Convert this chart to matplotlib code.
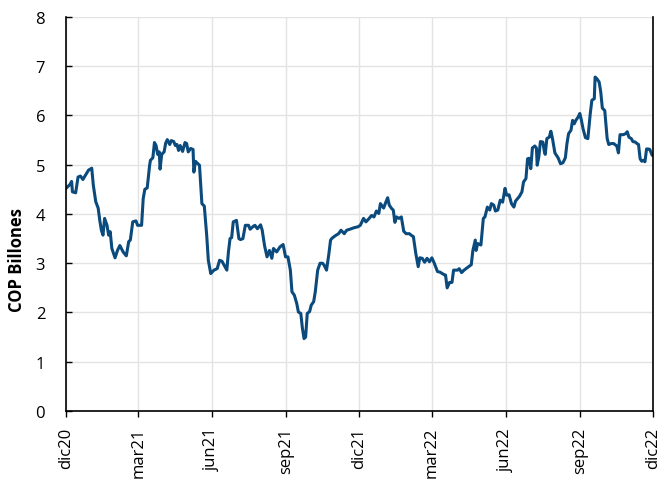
import matplotlib
matplotlib.use("Agg")
import matplotlib.pyplot as plt
import numpy as np
import pandas as pd

plt.rcParams["font.family"] = ["Open Sans", "DejaVu Sans"]

start = pd.Timestamp("2020-12-01")

# days since 2020-12-01 and value (COP billones)
day_offset = [
    0, 5, 7, 8, 12, 15, 18, 21, 24, 28, 32, 34, 37, 40, 42, 44, 46, 48, 51, 53,
    55, 57, 61, 64, 67, 71, 75, 78, 80, 83, 87, 89, 94, 96, 98, 101, 104, 105, 108, 110,
    112, 114, 116, 117, 119, 122, 124, 126, 129, 131, 134, 136, 138, 140, 142, 145, 148, 150, 152, 155,
    158, 159, 161, 164, 166, 169, 172, 175, 177, 180, 184, 188, 191, 194, 197, 200, 202, 204, 206, 208,
    212, 215, 217, 220, 223, 227, 229, 233, 235, 238, 242, 244, 247, 250, 253, 256, 258, 262, 266, 270,
    273, 276, 279, 281, 284, 287, 289, 292, 294, 296, 298, 300, 303, 305, 308, 310, 313, 316, 319, 321,
    324, 327, 329, 331, 335, 339, 342, 346, 349, 353, 358, 363, 366, 370, 373, 377, 380, 383, 386, 389,
    391, 395, 398, 400, 402, 405, 407, 409, 411, 414, 417, 420, 423, 427, 430, 432, 435, 438, 440, 443,
    446, 449, 452, 455, 458, 462, 465, 470, 472, 474, 477, 480, 482, 487, 489, 492, 495, 499, 504, 506,
    509, 510, 512, 516, 519, 521, 524, 527, 529, 532, 534, 537, 540, 543, 546, 548, 551, 554, 557, 559,
    564, 567, 569, 572, 574, 576, 578, 580, 583, 585, 586, 588, 590, 593, 595, 596, 598, 601, 603, 605,
    608, 612, 615, 618, 621, 623, 625, 628, 630, 632, 634, 637, 639, 641, 643, 646, 649, 652, 654, 657,
    658, 660, 663, 665, 667, 670, 673, 675, 678, 681, 685, 687, 689, 693, 696, 698, 700, 703, 705, 708,
    710, 712, 714, 716, 718, 720, 722, 724, 726, 729, 730,
]
cop_billones = [
    4.52, 4.60, 4.66, 4.45, 4.43, 4.75, 4.77, 4.70, 4.78, 4.89, 4.93, 4.58, 4.25, 4.12, 3.87, 3.67, 3.57, 3.91, 3.77, 3.57,
    3.64, 3.30, 3.11, 3.26, 3.36, 3.23, 3.15, 3.44, 3.47, 3.84, 3.86, 3.77, 3.77, 4.31, 4.50, 4.53, 4.99, 5.09, 5.14, 5.45,
    5.39, 5.21, 5.26, 4.91, 5.21, 5.26, 5.44, 5.51, 5.41, 5.49, 5.47, 5.39, 5.41, 5.29, 5.39, 5.27, 5.45, 5.43, 5.26, 5.33,
    5.31, 4.85, 5.07, 5.02, 4.99, 4.21, 4.16, 3.56, 3.06, 2.79, 2.86, 2.89, 3.06, 3.04, 2.95, 2.86, 3.23, 3.50, 3.52, 3.84,
    3.87, 3.50, 3.48, 3.50, 3.77, 3.77, 3.69, 3.75, 3.77, 3.70, 3.78, 3.67, 3.35, 3.13, 3.26, 3.10, 3.30, 3.23, 3.33, 3.38,
    3.13, 3.13, 2.86, 2.42, 2.35, 2.18, 2.01, 1.98, 1.68, 1.47, 1.50, 1.98, 2.02, 2.15, 2.22, 2.42, 2.86, 3.00, 3.00, 2.96,
    2.86, 3.20, 3.47, 3.51, 3.56, 3.60, 3.67, 3.60, 3.67, 3.69, 3.72, 3.74, 3.77, 3.91, 3.84, 3.91, 3.97, 3.94, 4.06, 4.01,
    4.21, 4.12, 4.25, 4.33, 4.18, 4.11, 4.08, 3.83, 3.94, 3.91, 3.94, 3.65, 3.60, 3.60, 3.56, 3.54, 3.20, 2.93, 3.11, 3.10,
    3.02, 3.10, 3.03, 3.11, 3.00, 2.83, 2.82, 2.77, 2.76, 2.50, 2.61, 2.61, 2.86, 2.86, 2.89, 2.81, 2.86, 2.91, 2.97, 3.26,
    3.47, 3.26, 3.40, 3.37, 3.91, 3.94, 4.14, 4.08, 4.21, 4.18, 4.06, 4.08, 4.28, 4.24, 4.52, 4.38, 4.39, 4.21, 4.14, 4.26,
    4.36, 4.45, 4.65, 4.72, 5.12, 5.13, 4.92, 5.34, 5.38, 5.34, 4.99, 5.16, 5.47, 5.46, 5.26, 5.21, 5.53, 5.56, 5.68, 5.53,
    5.24, 5.14, 5.02, 5.04, 5.14, 5.43, 5.63, 5.70, 5.90, 5.83, 5.90, 5.97, 6.04, 5.90, 5.73, 5.55, 5.53, 6.04, 6.31, 6.34,
    6.78, 6.75, 6.68, 6.48, 6.15, 6.10, 5.53, 5.41, 5.43, 5.43, 5.38, 5.24, 5.61, 5.61, 5.63, 5.67, 5.56, 5.53, 5.47, 5.46,
    5.43, 5.41, 5.12, 5.07, 5.09, 5.06, 5.32, 5.32, 5.31, 5.19, 5.20,
]

tick_dates = ["2020-12-01", "2021-03-01", "2021-06-01", "2021-09-01", "2021-12-01",
              "2022-03-01", "2022-06-01", "2022-09-01", "2022-12-01"]
tick_labels = ["dic20", "mar21", "jun21", "sep21", "dic21",
               "mar22", "jun22", "sep22", "dic22"]

dates = start + pd.to_timedelta(day_offset, unit="D")
ticks = pd.to_datetime(tick_dates)

fig = plt.figure(figsize=(6.62, 4.85), dpi=100)
ax = fig.add_axes([0.0997, 0.1505, 0.8867, 0.8125])

ax.plot(dates, cop_billones, color="#0b4a7c", lw=2.2, solid_joinstyle="round")

ax.set_xlim(ticks[0], ticks[-1])
ax.set_ylim(0, 8)
ax.set_yticks(np.arange(0, 9, 1))
ax.set_xticks(ticks)
ax.set_xticklabels(tick_labels, rotation=90)

ax.grid(True, color="#e3e3e3", lw=1)
ax.set_axisbelow(True)

for side in ["left", "bottom", "right"]:
    ax.spines[side].set_color("black")
    ax.spines[side].set_linewidth(1.2)
ax.spines["top"].set_visible(False)

ax.tick_params(axis="x", direction="out", length=4.5, width=1, pad=7, labelsize=12)
ax.tick_params(axis="y", direction="in", length=4.5, width=1, pad=15, labelsize=12)

ax.set_ylabel("COP Billones", fontsize=12, fontweight="bold")
ax.yaxis.set_label_coords(-0.068, 0.385)

fig.savefig("out.png", dpi=100)
